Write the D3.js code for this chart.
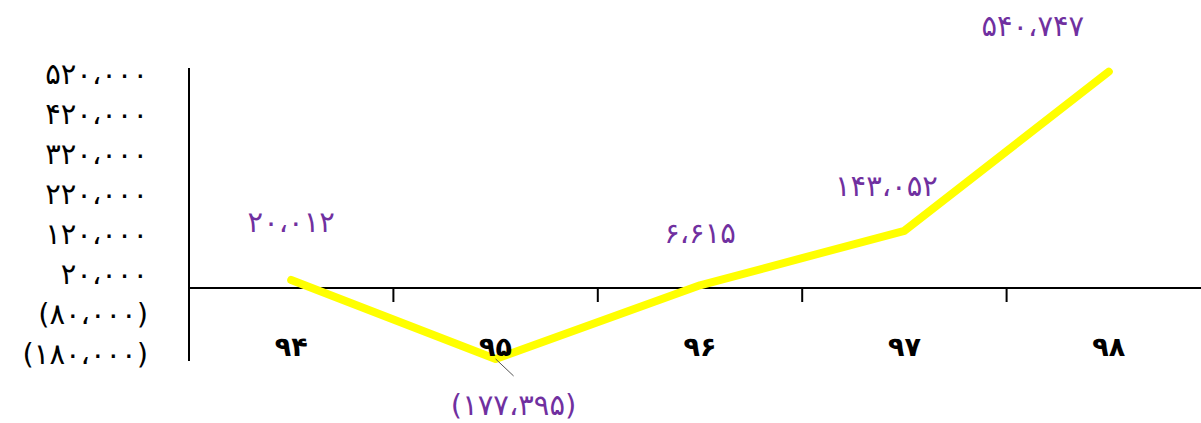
<!DOCTYPE html>
<html>
<head>
<meta charset="utf-8">
<script src="https://cdn.jsdelivr.net/npm/d3@7"></script>
<style>
  body { margin: 0; background: #fff; }
  svg { display: block; }
  text { font-family: "DejaVu Sans", sans-serif; }
</style>
</head>
<body>
<svg id="chart" width="1201" height="423"></svg>
<script>
// data
const years = ["۹۴", "۹۵", "۹۶", "۹۷", "۹۸"];
const values = [20012, -177395, 6615, 143052, 540747];
const valueLabels = ["۲۰،۰۱۲", "(۱۷۷،۳۹۵)", "۶،۶۱۵", "۱۴۳،۰۵۲", "۵۴۰،۷۴۷"];
const tickValues = [520000, 420000, 320000, 220000, 120000, 20000, -80000, -180000];
const tickLabels = ["۵۲۰،۰۰۰", "۴۲۰،۰۰۰", "۳۲۰،۰۰۰", "۲۲۰،۰۰۰", "۱۲۰،۰۰۰", "۲۰،۰۰۰", "(۸۰،۰۰۰)", "(۱۸۰،۰۰۰)"];

// label offsets relative to each point (dx, dy)
const labelOffsets = [[0, -58], [18, 46], [0, -52], [-18, -45], [-76, -46]];

const svg = d3.select("#chart");

const x = d3.scaleBand()
  .domain(years)
  .range([189, 1211]);

const y = d3.scaleLinear()
  .domain([-182500, 550000])
  .range([361, 68]);

// y axis line
svg.append("line")
  .attr("x1", 189).attr("x2", 189)
  .attr("y1", y(550000)).attr("y2", y(-182500))
  .attr("stroke", "#000").attr("stroke-width", 2);

// y tick labels
svg.selectAll(".ylab")
  .data(tickValues)
  .join("text")
  .attr("class", "ylab")
  .attr("x", 148)
  .attr("y", d => y(d) - 6)
  .attr("text-anchor", "end")
  .attr("dominant-baseline", "central")
  .attr("font-size", "29px")
  .attr("fill", "#000")
  .text((d, i) => tickLabels[i]);

// x axis line at zero
svg.append("line")
  .attr("x1", 189).attr("x2", 1211)
  .attr("y1", y(0)).attr("y2", y(0))
  .attr("stroke", "#000").attr("stroke-width", 2);

// x tick marks between categories
svg.selectAll(".xtick")
  .data(years.slice(1))
  .join("line")
  .attr("class", "xtick")
  .attr("x1", d => x(d)).attr("x2", d => x(d))
  .attr("y1", y(0)).attr("y2", y(0) + 14)
  .attr("stroke", "#000").attr("stroke-width", 2);

// the line
const line = d3.line()
  .x((d, i) => x(years[i]) + x.bandwidth() / 2)
  .y(d => y(d));

svg.append("path")
  .datum(values)
  .attr("d", line)
  .attr("fill", "none")
  .attr("stroke", "#ffff00")
  .attr("stroke-width", 8)
  .attr("stroke-linecap", "round")
  .attr("stroke-linejoin", "round");

// category labels (drawn over the line)
svg.selectAll(".xlab")
  .data(years)
  .join("text")
  .attr("class", "xlab")
  .attr("x", d => x(d) + x.bandwidth() / 2)
  .attr("y", 346)
  .attr("text-anchor", "middle")
  .attr("dominant-baseline", "central")
  .attr("font-size", "27px")
  .attr("font-weight", "bold")
  .attr("fill", "#000")
  .text(d => d);

// leader line for the negative point
const px = x(years[1]) + x.bandwidth() / 2;
svg.append("line")
  .attr("x1", px).attr("y1", y(values[1]))
  .attr("x2", px + 18).attr("y2", y(values[1]) + 17)
  .attr("stroke", "#555").attr("stroke-width", 1);

// value labels
svg.selectAll(".vlab")
  .data(values)
  .join("text")
  .attr("class", "vlab")
  .attr("x", (d, i) => x(years[i]) + x.bandwidth() / 2 + labelOffsets[i][0])
  .attr("y", (d, i) => y(d) + labelOffsets[i][1])
  .attr("text-anchor", "middle")
  .attr("dominant-baseline", "central")
  .attr("font-size", "29px")
  .attr("fill", "#7030a0")
  .text((d, i) => valueLabels[i]);
</script>
</body>
</html>
